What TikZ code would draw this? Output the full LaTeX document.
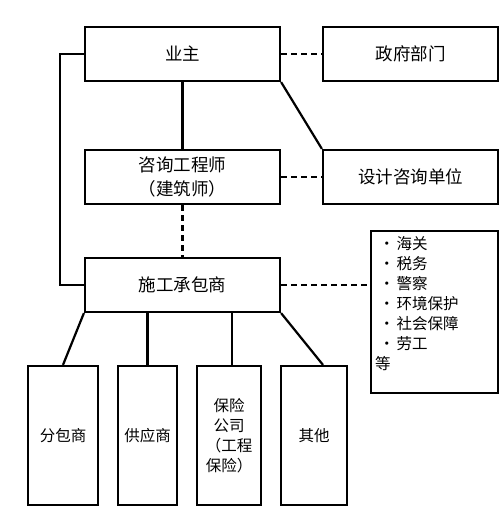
\documentclass[tikz,border=0pt]{standalone}
\usepackage{fontspec}
\setmainfont{Noto Sans CJK SC}
\begin{document}
\begin{tikzpicture}[x=1pt,y=-1pt,
  box/.style={draw,line width=2.2pt,inner sep=0pt,align=center,font=\fontsize{17.5}{24}\selectfont},
  sbox/.style={box,font=\fontsize{15.5}{20}\selectfont,minimum height=139pt},
  conn/.style={line width=2.2pt},
  dconn/.style={line width=2.2pt,dash pattern=on 6pt off 4pt}]
\useasboundingbox (0,0) rectangle (500,522);
\node[box,minimum width=195pt,minimum height=54pt] (yz) at (182.5,54) {业主};
\node[box,minimum width=175pt,minimum height=54pt] (zf) at (410.5,54) {政府部门};
\node[box,minimum width=195pt,minimum height=54pt] (zx) at (182.5,177) {咨询工程师\\（建筑师）};
\node[box,minimum width=175pt,minimum height=54pt] (sj) at (410.5,177) {设计咨询单位};
\node[box,minimum width=195pt,minimum height=54pt] (sg) at (182.5,285) {施工承包商};
\node[box,minimum width=127pt,minimum height=162pt] (lb) at (434.5,312) {};
\node[anchor=north west,align=left,inner sep=0pt,font=\fontsize{15.5}{20}\selectfont] (lt) at (375,236)
  {\hspace{4pt}•\hspace{2pt}海关\\\hspace{4pt}•\hspace{2pt}税务\\\hspace{4pt}•\hspace{2pt}警察\\\hspace{4pt}•\hspace{2pt}环境保护\\\hspace{4pt}•\hspace{2pt}社会保障\\\hspace{4pt}•\hspace{2pt}劳工\\等};
\node[sbox,minimum width=70pt] (fb) at (63,435.5) {分包商};
\node[sbox,minimum width=59pt] (gy) at (147.5,435.5) {供应商};
\node[sbox,minimum width=64pt] (bx) at (229,435.5) {保险\\公司\\（工程\\保险）};
\node[sbox,minimum width=66pt] (qt) at (314,435.5) {其他};
\coordinate (qtin) at ([xshift=9pt]qt.north);
\coordinate (bxin) at ([xshift=3pt]bx.north);
% connectors
\draw[dconn] (yz.east) -- (zf.west);
\draw[dconn] (zx.east) -- (sj.west);
\draw[dconn] (zx.south) -- (sg.north);
\draw[dconn] (sg.east) -- (sg.east -| lb.west);
\draw[conn] (yz.south) -- (zx.north);
\draw[conn] (yz.south east) -- (sj.north west);
\draw[conn] (yz.west) -- ++(-24,0) |- (sg.west);
\draw[conn] (sg.south west) -- (fb.north);
\draw[conn] (gy.north) -- (gy.north |- sg.south);
\draw[conn] (bxin) -- (bxin |- sg.south);
\draw[conn] (sg.south east) -- (qtin);
\end{tikzpicture}
\end{document}
